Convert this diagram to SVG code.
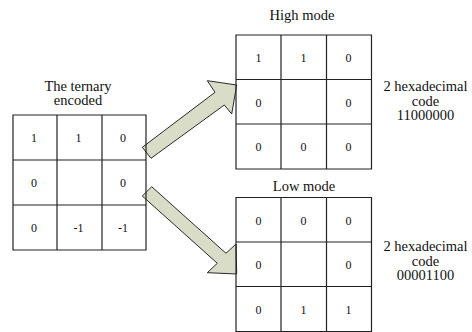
<svg xmlns="http://www.w3.org/2000/svg" width="472" height="332" viewBox="0 0 472 332" font-family="Liberation Serif, Times New Roman, serif">
  <style>
    .grid { fill: none; stroke: #222; stroke-width: 1.2; }
    .label { font-size: 14.5px; fill: #111; text-anchor: middle; }
    .digit { font-size: 12px; fill: #111; text-anchor: middle; }
    .arrow { fill: #d9dcc6; stroke: #2a2a2a; stroke-width: 1; stroke-linejoin: miter; }
  </style>

  <rect width="472" height="332" fill="#fff"/>

  <!-- block arrows from the ternary grid to both mode grids -->
  <g id="connectors">
    <polygon class="arrow" points="142.3,147.3 215,92.3 207.3,80.7 236.7,85 231.7,114 224.3,105 151,158.3"/>
    <polygon class="arrow" points="151.7,186.7 226,253.3 236,244 236.7,274 207.3,272.7 217.3,263.3 142.3,196"/>
  </g>

  <!-- ternary encoded pattern -->
  <g id="ternary" font-family="Liberation Serif, serif">
    <text class="label" x="78" y="90.5">The ternary</text>
    <text class="label" x="78" y="105">encoded</text>
    <path class="grid" d="M13,115 H146 V250 H13 Z M57,115 V250 M102,115 V250 M13,160 H146 M13,205 H146"/>
    <text class="digit" x="34" y="142">1</text>
    <text class="digit" x="78.5" y="142">1</text>
    <text class="digit" x="123" y="142">0</text>
    <text class="digit" x="34" y="187">0</text>
    <text class="digit" x="123" y="187">0</text>
    <text class="digit" x="34" y="232">0</text>
    <text class="digit" x="78.5" y="232">-1</text>
    <text class="digit" x="123" y="232">-1</text>
  </g>

  <!-- high mode pattern -->
  <g id="high-mode" font-family="Liberation Serif, serif">
    <text class="label" x="302" y="20">High mode</text>
    <path class="grid" d="M236,35 H371.5 V169 H236 Z M281,35 V169 M326.5,35 V169 M236,79.5 H371.5 M236,124 H371.5"/>
    <text class="digit" x="258.5" y="62">1</text>
    <text class="digit" x="303.5" y="62">1</text>
    <text class="digit" x="348.5" y="62">0</text>
    <text class="digit" x="258.5" y="106.5">0</text>
    <text class="digit" x="348.5" y="106.5">0</text>
    <text class="digit" x="258.5" y="151">0</text>
    <text class="digit" x="303.5" y="151">0</text>
    <text class="digit" x="348.5" y="151">0</text>
  </g>

  <g id="high-code" font-family="Liberation Serif, serif">
    <text class="label" x="425.5" y="91">2 hexadecimal</text>
    <text class="label" x="425.5" y="105.5">code</text>
    <text class="label" x="425.5" y="120">11000000</text>
  </g>

  <!-- low mode pattern -->
  <g id="low-mode" font-family="Liberation Serif, serif">
    <text class="label" x="304" y="191">Low mode</text>
    <path class="grid" d="M236,197.5 H371.5 V331.5 H236 Z M281,197.5 V331.5 M326.5,197.5 V331.5 M236,242 H371.5 M236,286.5 H371.5"/>
    <text class="digit" x="258.5" y="224.5">0</text>
    <text class="digit" x="303.5" y="224.5">0</text>
    <text class="digit" x="348.5" y="224.5">0</text>
    <text class="digit" x="258.5" y="269">0</text>
    <text class="digit" x="348.5" y="269">0</text>
    <text class="digit" x="258.5" y="313.5">0</text>
    <text class="digit" x="303.5" y="313.5">1</text>
    <text class="digit" x="348.5" y="313.5">1</text>
  </g>

  <g id="low-code" font-family="Liberation Serif, serif">
    <text class="label" x="425.5" y="251">2 hexadecimal</text>
    <text class="label" x="425.5" y="265.5">code</text>
    <text class="label" x="425.5" y="280">00001100</text>
  </g>
</svg>
